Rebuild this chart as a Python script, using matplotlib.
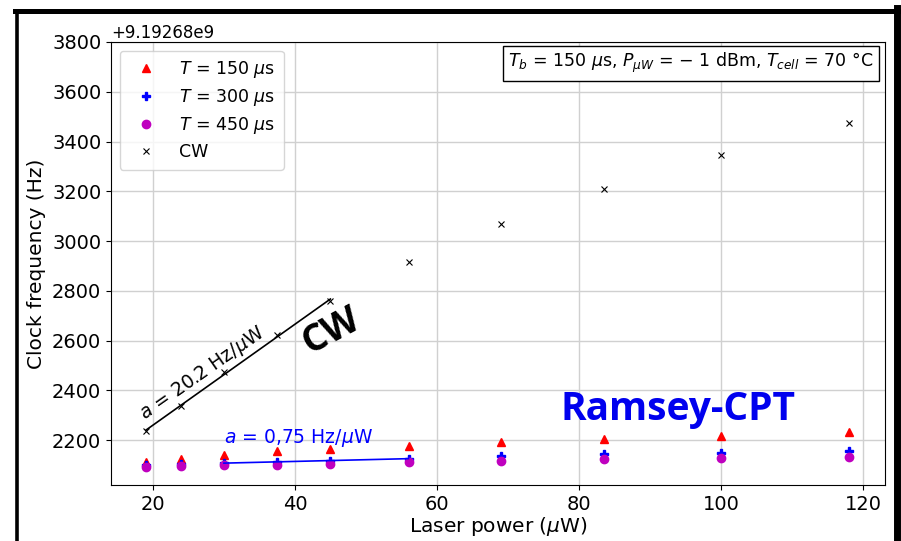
import numpy as np
import matplotlib.pyplot as plt
from matplotlib.lines import Line2D

F0 = 9.19268e9  # Hz, offset shown on the axis

power = [19, 24, 30, 37.5, 45, 56, 69, 83.5, 100, 118]  # uW
# clock frequency minus F0 (Hz)
f_150 = [2111, 2124, 2140, 2156, 2164, 2176, 2192, 2204, 2216, 2232]
f_300 = [2099, 2103, 2108, 2113, 2118, 2126, 2136, 2144, 2148, 2156]
f_450 = [2091, 2095, 2099, 2099, 2103, 2111, 2115, 2124, 2128, 2132]
f_cw = [2236, 2337, 2473, 2622, 2759, 2916, 3068, 3209, 3346, 3474]

p = np.array(power)

fig = plt.figure(figsize=(9.01, 5.41), dpi=100)
ax = fig.add_axes([0.1232, 0.1035, 0.8590, 0.8189])

ax.plot(p, F0 + np.array(f_150), '^', color='red', ms=6, label=r'$T$ = 150 $\mu$s')
ax.plot(p, F0 + np.array(f_300), 'P', color='blue', ms=6, label=r'$T$ = 300 $\mu$s')
ax.plot(p, F0 + np.array(f_450), 'o', color='m', ms=6, label=r'$T$ = 450 $\mu$s')
ax.plot(p, F0 + np.array(f_cw), 'x', color='black', ms=5, mew=0.8, label='CW')

# linear fits on the low power part
m = p <= 45
a_cw = np.polyfit(p[m], f_cw[:m.sum()], 1)
ax.plot(p[m], F0 + np.polyval(a_cw, p[m]), '-', color='black', lw=1.2)
m2 = (p >= 30) & (p <= 56)
a_r = np.polyfit(p[m2], np.array(f_300)[m2], 1)
ax.plot(p[m2], F0 + np.polyval(a_r, p[m2]), '-', color='blue', lw=1.2)

ax.text(19.3, F0 + 2262, r'$a$ = 20.2 Hz/$\mu$W', rotation=35, fontsize=13.5,
        ha='left', va='bottom', rotation_mode='anchor')
ax.text(30, F0 + 2163, r'$a$ = 0,75 Hz/$\mu$W', color='blue', fontsize=13.5,
        ha='left', va='bottom')
ax.text(45.2, F0 + 2640, 'CW', rotation=28, fontsize=27, fontweight='bold',
        ha='center', va='center', family='Open Sans')
ax.text(93.9, F0 + 2322, 'Ramsey-CPT', color='#0000ee', fontsize=28,
        fontweight='bold', ha='center', va='center', family='Open Sans')

ax.text(0.985, 0.952, r'$T_b$ = 150 $\mu$s, $P_{\mu W}$ = $-$ 1 dBm, $T_{cell}$ = 70 °C',
        transform=ax.transAxes, ha='right', va='center', fontsize=12.5,
        bbox=dict(boxstyle='square,pad=0.3', fc='white', ec='black', lw=1))

ax.set_xlim(14.1, 123.1)
ax.set_ylim(F0 + 2020, F0 + 3800)
ax.set_xticks([20, 40, 60, 80, 100, 120])
ax.set_yticks(F0 + np.arange(2200, 3801, 200))
ax.tick_params(labelsize=14)
ax.yaxis.get_offset_text().set_fontsize(12)
ax.grid(True, color='#d0d0d0', lw=1)
ax.set_axisbelow(True)
ax.set_xlabel(r'Laser power ($\mu$W)', fontsize=14.5, labelpad=1)
ax.set_ylabel('Clock frequency (Hz)', fontsize=14.5, labelpad=4)
ax.legend(loc='upper left', fontsize=12.5, handletextpad=0.9, borderpad=0.5,
          labelspacing=0.4)

# slide frame (left, top, right)
W, H = 901, 541
fig.lines.append(Line2D([16.5 / W, 16.5 / W], [0, 1 - 10.5 / H], transform=fig.transFigure,
                        color='black', lw=2.6))
fig.lines.append(Line2D([15 / W, 900 / W], [1 - 10.5 / H, 1 - 10.5 / H],
                        transform=fig.transFigure, color='black', lw=3.6))
fig.lines.append(Line2D([896.5 / W, 896.5 / W], [0, 1 - 8 / H], transform=fig.transFigure,
                        color='black', lw=5))

fig.savefig('out.png', dpi=100)
